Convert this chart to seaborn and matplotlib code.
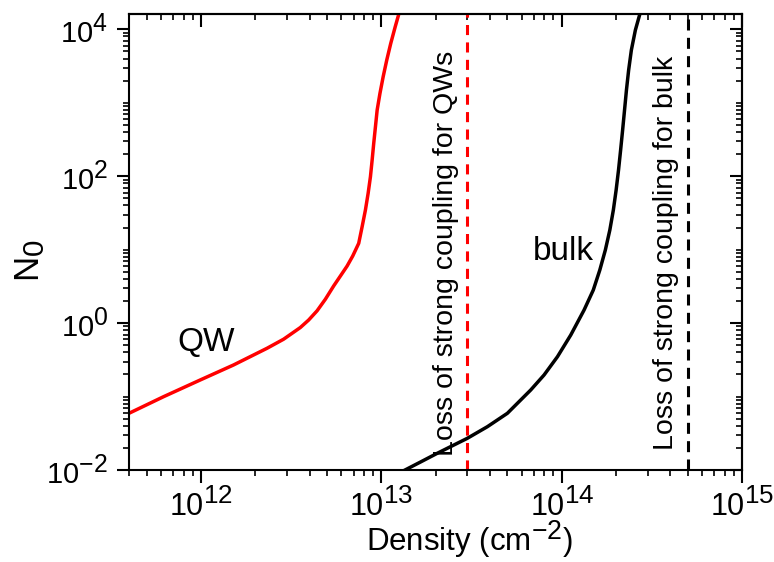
import matplotlib
matplotlib.use("Agg")
import matplotlib.pyplot as plt
import numpy as np
import pandas as pd
import seaborn as sns
from matplotlib.ticker import FixedLocator, LogLocator, NullFormatter, FixedFormatter

try:
    import matplotlib._mathtext as _mt
    _mt.SHRINK_FACTOR = 0.85
except Exception:
    pass

# ---------------- data ----------------
qw_density = [3.98e11, 6.18e11, 9.87e11, 1.511e12, 2.317e12, 2.866e12, 3.548e12, 3.946e12,
              4.394e12, 4.886e12, 5.433e12, 5.918e12, 6.449e12, 6.927e12, 7.479e12, 7.812e12,
              8.148e12, 8.435e12, 8.687e12, 8.878e12, 9.061e12, 9.261e12, 9.465e12, 9.810e12,
              1.022e13, 1.070e13, 1.126e13, 1.192e13, 1.252e13]
qw_n0 = [0.0592, 0.0995, 0.168, 0.269, 0.454, 0.604, 0.871, 1.102,
         1.471, 2.116, 3.210, 4.378, 5.990, 8.194, 12.20, 20.54,
         34.66, 58.5, 98.4, 166, 281, 472, 796, 1343,
         2265, 3819, 6442, 10840, 16600]

bulk_density = [1.330e13, 1.647e13, 2.039e13, 2.994e13, 3.867e13, 4.993e13, 6.727e13, 7.976e13,
                9.465e13, 1.122e14, 1.330e14, 1.496e14, 1.626e14, 1.745e14, 1.848e14, 1.933e14,
                2.003e14, 2.065e14, 2.121e14, 2.176e14, 2.230e14, 2.285e14, 2.350e14, 2.433e14,
                2.561e14, 2.720e14]
bulk_n0 = [0.0098, 0.01285, 0.01688, 0.02701, 0.03886, 0.05916, 0.1228, 0.1965,
           0.3487, 0.6887, 1.508, 2.822, 5.284, 9.890, 18.51, 34.66,
           64.89, 121.5, 227.3, 425.6, 796.8, 1492, 2792, 5227,
           9784, 16600]

qw_limit = 3e13
bulk_limit = 5e14

x_ticks = [1e12, 1e13, 1e14, 1e15]
x_tick_labels = ["$10^{12}$", "$10^{13}$", "$10^{14}$", "$10^{15}$"]
y_ticks = [1e-2, 1e0, 1e2, 1e4]
y_tick_labels = ["$10^{-2}$", "$10^{0}$", "$10^{2}$", "$10^{4}$"]

x_label = "Density (cm$^{-2}$)"
y_label = "N$_0$"
qw_text = "QW"
bulk_text = "bulk"
qw_limit_text = "Loss of strong coupling for QWs"
bulk_limit_text = "Loss of strong coupling for bulk"

# ---------------- style ----------------
sns.set_theme(style="ticks")
plt.rcParams['font.family'] = ['Liberation Sans', 'DejaVu Sans']
plt.rcParams['mathtext.fontset'] = 'custom'
plt.rcParams['mathtext.rm'] = 'Liberation Sans'
plt.rcParams['mathtext.it'] = 'Liberation Sans:italic'
plt.rcParams['mathtext.bf'] = 'Liberation Sans:bold'
plt.rcParams['axes.linewidth'] = 1.5
for k in ['text.color', 'axes.labelcolor', 'xtick.color', 'ytick.color', 'axes.edgecolor']:
    plt.rcParams[k] = 'black'

fig = plt.figure(figsize=(7.74, 5.62), dpi=100)
ax = fig.add_axes([0.1667, 0.1637, 0.7920, 0.8114])

qw_df = pd.DataFrame({"density": qw_density, "n0": qw_n0})
bulk_df = pd.DataFrame({"density": bulk_density, "n0": bulk_n0})

sns.lineplot(data=qw_df, x="density", y="n0", color="#ff0000", linewidth=2.5,
             sort=False, estimator=None, ax=ax)
sns.lineplot(data=bulk_df, x="density", y="n0", color="black", linewidth=2.5,
             sort=False, estimator=None, ax=ax)

ax.set_xscale("log")
ax.set_yscale("log")
ax.set_xlim(3.98e11, 1e15)
ax.set_ylim(1e-2, 1.62e4)

ax.axvline(qw_limit, color="#ff0000", linewidth=2.2, ls=(0, (3.3, 2.4)))
ax.axvline(bulk_limit, color="black", linewidth=2.2, ls=(0, (3.6, 2.4)))

# ticks
ax.xaxis.set_major_locator(FixedLocator(x_ticks))
ax.xaxis.set_major_formatter(FixedFormatter(x_tick_labels))
ax.xaxis.set_minor_locator(LogLocator(base=10, subs=np.arange(2, 10), numticks=30))
ax.xaxis.set_minor_formatter(NullFormatter())
ax.yaxis.set_major_locator(FixedLocator(y_ticks))
ax.yaxis.set_major_formatter(FixedFormatter(y_tick_labels))
ax.yaxis.set_minor_locator(LogLocator(base=10, subs=np.arange(1, 10), numticks=30))
ax.yaxis.set_minor_formatter(NullFormatter())

ax.tick_params(which="major", direction="out", length=9, width=1.5, color="black",
               labelcolor="black")
ax.tick_params(which="minor", direction="out", length=4.5, width=1.2, color="black")
ax.tick_params(axis="x", which="major", pad=4, labelsize=22)
ax.tick_params(axis="y", which="major", pad=6, labelsize=21)

for side in ["top", "right"]:
    ax.spines[side].set_visible(True)

secx = ax.secondary_xaxis("top")
secx.xaxis.set_major_locator(FixedLocator(x_ticks))
secx.xaxis.set_minor_locator(LogLocator(base=10, subs=np.arange(2, 10), numticks=30))
secx.xaxis.set_minor_formatter(NullFormatter())
secx.tick_params(which="major", direction="in", length=9, width=1.5, labeltop=False, color="black")
secx.tick_params(which="minor", direction="in", length=4.5, width=1.2, color="black")
secx.spines["top"].set_linewidth(1.5)

secy = ax.secondary_yaxis("right")
secy.yaxis.set_major_locator(FixedLocator(y_ticks))
secy.yaxis.set_minor_locator(LogLocator(base=10, subs=np.arange(1, 10), numticks=30))
secy.yaxis.set_minor_formatter(NullFormatter())
secy.tick_params(which="major", direction="in", length=9, width=1.5, labelright=False, color="black")
secy.tick_params(which="minor", direction="in", length=4.5, width=1.2, color="black")
secy.spines["right"].set_linewidth(1.5)

ax.set_xlabel(x_label, fontsize=22.5, color="black")
ax.set_ylabel(y_label, fontsize=25, color="black")
ax.xaxis.set_label_coords(0.556, -0.106)
ax.yaxis.set_label_coords(-0.133, 0.46)

ax.text(1.07e12, 0.54, qw_text, fontsize=24, ha="center", va="center", color="black")
ax.text(1.02e14, 9.5, bulk_text, fontsize=24, ha="center", va="center", color="black")
ax.text(2.27e13, 9.0, qw_limit_text, fontsize=20.5, rotation=90, ha="center", va="center",
        color="black")
ax.text(3.78e14, 9.0, bulk_limit_text, fontsize=20.5, rotation=90, ha="center", va="center",
        color="black")

fig.savefig("out.png", dpi=100)
